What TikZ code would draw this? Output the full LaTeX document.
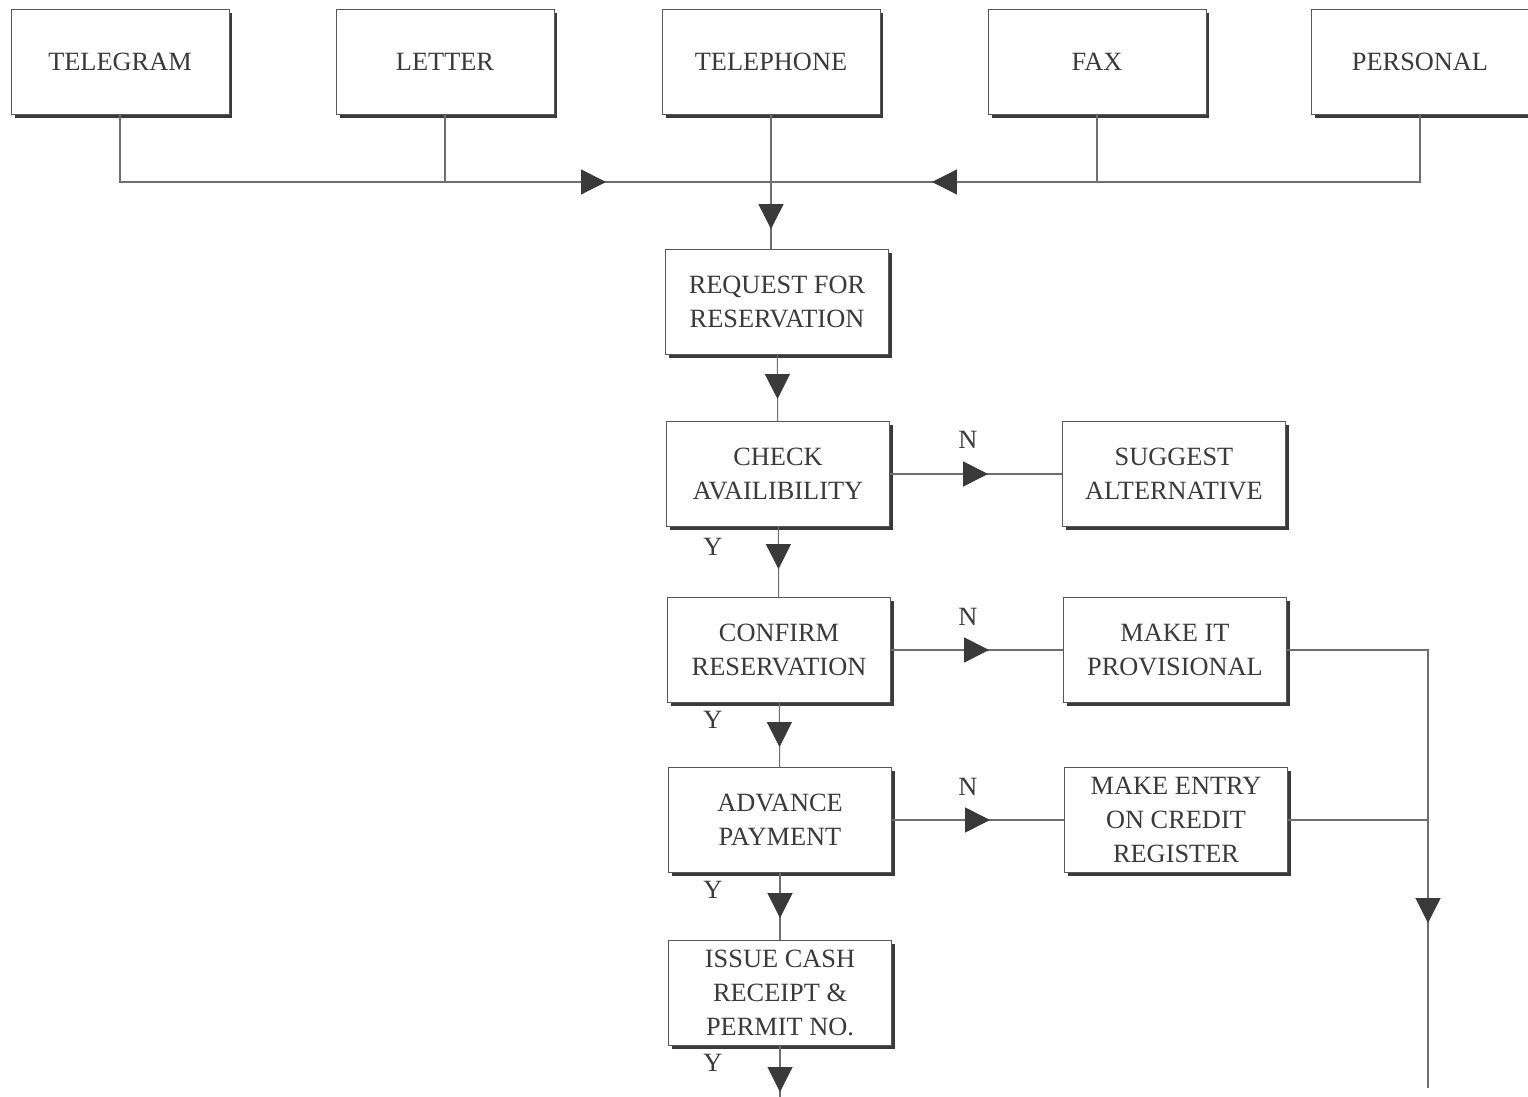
\documentclass[tikz,border=0pt]{standalone}
\usepackage{fontspec}
\setmainfont{Liberation Serif}
\usetikzlibrary{arrows.meta,decorations.markings,shadows}
\definecolor{ink}{HTML}{3A3A3A}
\definecolor{linegray}{HTML}{6E6E6E}
\tikzstyle{box} = [draw=ink!85, line width=0.5pt, fill=white, align=center, inner sep=2pt, minimum width=4.45cm, minimum height=2.1cm, text=ink, font=\fontsize{15}{19.5}\selectfont, drop shadow={shadow xshift=0.07cm, shadow yshift=-0.07cm, fill=ink, opacity=1}]
\tikzstyle{src} = [box, minimum width=4.36cm]
\tikzstyle{wire} = [draw=linegray, line width=0.6pt]
\tikzstyle{lbl} = [text=ink, font=\fontsize{15}{18}\selectfont, inner sep=1pt]
\tikzset{tipat/.style={postaction={decorate}, decoration={markings, mark=at position #1 with {\arrow[ink]{Triangle[length=0.5cm,width=0.5cm]}}}}}

\begin{document}
\begin{tikzpicture}[x=0.02cm, y=-0.02cm]
    \fill[white] (0,0) rectangle (1528,1097);
    \useasboundingbox (0,0) rectangle (1528,1097);
    % sources
    \node[src](telegram) at (120,62){TELEGRAM};
    \node[src](letter) at (445,62){LETTER};
    \node[src](telephone) at (771,62){TELEPHONE};
    \node[src](fax) at (1097,62){FAX};
    \node[src](personal) at (1420,62){PERSONAL};
    \coordinate (bus) at (771,182);
    % main column
    \node[box](req) at (777,302){REQUEST FOR\\RESERVATION};
    \node[box](check) at (778,474){CHECK\\AVAILIBILITY};
    \node[box](confirm) at (779,650){CONFIRM\\RESERVATION};
    \node[box](advance) at (780,820){ADVANCE\\PAYMENT};
    \node[box](issue) at (780,993){ISSUE CASH\\RECEIPT \&\\PERMIT NO.};
    \coordinate (out) at (issue.south |- 0,1097);
    % side column
    \node[box](suggest) at (1174,474){SUGGEST\\ALTERNATIVE};
    \node[box](makeit) at (1175,650){MAKE IT\\PROVISIONAL};
    \node[box](entry) at (1176,820){MAKE ENTRY\\ON CREDIT\\REGISTER};
    \coordinate (down) at (1428,1088);
    % labels
    \node[lbl](n1) at (968,440){N};
    \node[lbl](n2) at (968,617){N};
    \node[lbl](n3) at (968,787){N};
    \node[lbl](y1) at (713,547){Y};
    \node[lbl](y2) at (713,720){Y};
    \node[lbl](y3) at (713,890){Y};
    \node[lbl](y4) at (713,1063){Y};
    % connectors
    \draw[wire](telegram.south) |- (bus);
    \draw[wire,tipat=-3.3cm](letter.south) |- (bus);
    \draw[wire](personal.south) |- (bus);
    \draw[wire,tipat=-3.22cm](fax.south) |- (bus);
    \draw[wire](telephone.south) -- (bus);
    \draw[wire,tipat=-0.4cm](bus) -- (bus |- req.north);
    \draw[wire,tipat=-0.44cm](req) -- (check);
    \draw[wire,tipat=-0.56cm](check) -- (confirm);
    \draw[wire,tipat=-0.4cm](confirm) -- (advance);
    \draw[wire,tipat=-0.44cm](advance) -- (issue);
    \draw[wire,tipat=-0.1cm](issue) -- (out);
    \draw[wire,tipat=0.57](check) -- (suggest);
    \draw[wire,tipat=0.57](confirm) -- (makeit);
    \draw[wire,tipat=0.57](advance) -- (entry);
    \draw[wire,tipat=-3.3cm](makeit.east) -| (down);
    \draw[wire](entry) -- (entry -| down);
\end{tikzpicture}
\end{document}
